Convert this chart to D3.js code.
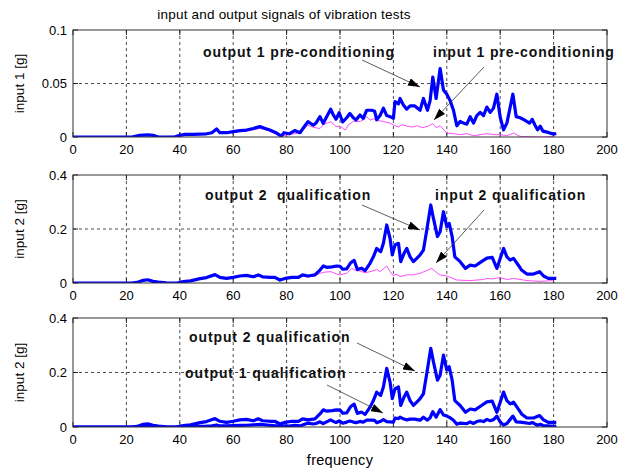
<!DOCTYPE html>
<html>
<head>
<meta charset="utf-8">
<script src="https://cdn.jsdelivr.net/npm/d3@7"></script>
<style>
  body { margin: 0; background: #fff; }
  svg { display: block; }
  text { font-family: "Liberation Sans", Arial, sans-serif; }
</style>
</head>
<body>
<svg id="chart" width="623" height="472"></svg>
<script>
// Frequency (Hz) / amplitude (g) samples for each measured signal
const output1Freq = [0,22,25,28,30,32,38,40,42,45,50,52,53.8,55,57.5,60,62.5,65,67.5,70,72,73.7,76,78,79,81,83,85,87,88,90,91,92.5,93.7,95,96.5,97.5,98.5,99.7,101,102.5,103.7,105,106,107.5,108.7,110,111.9,113,113.75,115,116.25,117.5,118.75,120,120.6,121.9,122.5,123.75,125,126.25,128,130,131.25,132.75,133.75,134.75,136,137.5,138.75,140,141.25,142.5,143.75,145,146.25,147.5,148.75,150,151.25,152.5,153.75,155,156.25,157.5,158.75,160,161.25,162.5,163.75,164.75,166,167.5,169,171,172,173,174,175,176,178,180,181];
const output1Vals = [0,0,0.0015,0.002,0.0015,0,0,0.0015,0.0025,0.0025,0.003,0.004,0.0075,0.004,0.004,0.005,0.006,0.0065,0.008,0.0097,0.008,0.0065,0.004,0.0008,0.004,0.003,0.006,0.004,0.011,0.0143,0.011,0.013,0.019,0.0127,0.019,0.026,0.0206,0.0166,0.0227,0.014,0.018,0.022,0.018,0.016,0.0205,0.0175,0.025,0.025,0.024,0.016,0.020,0.027,0.020,0.019,0.0175,0.033,0.031,0.036,0.030,0.026,0.029,0.029,0.025,0.036,0.025,0.034,0.056,0.036,0.064,0.044,0.040,0.034,0.025,0.0105,0.0145,0.013,0.012,0.019,0.013,0.020,0.023,0.020,0.028,0.023,0.027,0.040,0.0185,0.0067,0.013,0.028,0.040,0.019,0.018,0.016,0.013,0.0165,0.0112,0.0067,0.010,0.0055,0.0043,0.0027,0.0033];

const input1Freq = [0,22,28,32,40,42,50,53.8,55,60,65,70,73.7,78,81,85,88,90,92.5,94,96.6,98.5,100,102,103,105,107.5,108.7,110,111.25,112.5,113.75,116,118.75,120.6,121.9,123,125,126.9,128.75,131,133,134.75,136,137.5,140,142.5,145,147.5,150,152.5,155,157.5,160,162.5,165,167.5,175,180];
const input1Vals = [0,0,0.0015,0,0.001,0.002,0.0025,0.006,0.0035,0.0045,0.0055,0.008,0.0055,0.0005,0.0025,0.0035,0.011,0.009,0.008,0.012,0.0143,0.0097,0.0102,0.0065,0.011,0.0146,0.0146,0.0157,0.019,0.0157,0.017,0.0157,0.0146,0.013,0.0105,0.0093,0.0115,0.0102,0.0093,0.0105,0.0087,0.0102,0.0124,0.0087,0.0105,0.0037,0.0031,0.0022,0.0031,0.0012,0.0022,0.0031,0.0022,0.0022,0.0012,0.0037,0.0005,0,0.0005];

const output2Freq = [0,22,24,26.3,28,30,32,35,39,41.3,44,47.6,50,53.2,55,57.5,60,62.5,65,67.5,69.4,71,73.75,75.6,77.5,79.4,82,84.4,86,88,90.6,92.5,93.75,95,97,98.75,100,101,102.5,104,105.3,106.5,108,109.4,111.25,112.5,113.75,115.25,116.25,117.5,118.75,119.6,120.6,121.9,122.75,124,125,126.25,127.5,128.75,130,131.25,132.5,134,135,136.5,137.5,138.75,140,140.9,142,143,145,147,148.75,150.6,153,155,157,158.75,160,161.25,162.5,163.75,165,167,168,170,172.5,174.75,176.25,178,181];
const output2Vals = [0,0,0.002,0.01,0.012,0.006,0.003,0.001,0,0.005,0.008,0.016,0.02,0.031,0.021,0.017,0.021,0.026,0.028,0.023,0.030,0.023,0.021,0.021,0.011,0.017,0.021,0.021,0.030,0.026,0.030,0.048,0.063,0.058,0.060,0.063,0.062,0.051,0.052,0.075,0.084,0.05,0.055,0.046,0.073,0.097,0.128,0.116,0.147,0.215,0.165,0.104,0.141,0.147,0.079,0.110,0.128,0.097,0.079,0.091,0.104,0.122,0.196,0.289,0.239,0.172,0.190,0.264,0.209,0.221,0.172,0.097,0.079,0.054,0.066,0.063,0.079,0.092,0.095,0.054,0.091,0.128,0.097,0.085,0.091,0.063,0.048,0.033,0.033,0.042,0.026,0.017,0.017];

const input2Freq = [0,22,26.3,28,32,39,41.3,47.6,53.2,55,60,62.5,65,67.5,69.4,71,75,77.5,79.4,82,86,88,90.6,92.5,94,96.6,98,100,102.5,104.4,106,107.5,109.4,111.25,113.75,115,117.5,118.75,120,121,122.5,125,127.5,130,132.5,134.4,136.25,137.5,140,143.75,148.75,153.75,155,157,160,162.5,165,170,175,180];
const input2Vals = [0,0,0.008,0.01,0.002,0,0.004,0.014,0.028,0.019,0.019,0.024,0.025,0.021,0.027,0.021,0.019,0.010,0.015,0.018,0.025,0.022,0.026,0.036,0.040,0.042,0.036,0.030,0.036,0.054,0.046,0.044,0.038,0.042,0.050,0.042,0.063,0.042,0.026,0.033,0.024,0.030,0.030,0.036,0.046,0.054,0.038,0.030,0.026,0.011,0.009,0.013,0.017,0.015,0.020,0.013,0.017,0.009,0.006,0.009];

// The qualification run of output 1 repeats the same spectrum
const output1QualFreq = output1Freq;
const output1QualVals = output1Vals;

const xTicks = [0,20,40,60,80,100,120,140,160,180,200];
const yTicks1 = [0, 0.05, 0.1];
const yTicks2 = [0, 0.2, 0.4];
const yTickLabels1 = ["0", "0.05", "0.1"];
const yTickLabels2 = ["0", "0.2", "0.4"];

const titleText = "input and output signals of vibration tests";
const xLabel = "frequency";

const BLUE = "#0000ff";
const MAGENTA = "#ff4dff";

const svg = d3.select("#chart");
svg.append("rect").attr("width", 623).attr("height", 472).attr("fill", "#fff");

const defs = svg.append("defs");
defs.append("marker")
  .attr("id", "arrowhead")
  .attr("viewBox", "0 0 12 8")
  .attr("refX", 12).attr("refY", 4)
  .attr("markerWidth", 12).attr("markerHeight", 8)
  .attr("markerUnits", "userSpaceOnUse")
  .attr("orient", "auto")
  .append("path").attr("d", "M0,0 L12,4 L0,8 Z").attr("fill", "#000");

const x = d3.scaleLinear().domain([0, 200]).range([73, 607]);

const panels = [
  {
    top: 30, bottom: 137, yMax: 0.1, ticks: yTicks1, tickLabels: yTickLabels1, ylabel: "input 1 [g]",
    series: [
      { f: input1Freq, v: input1Vals, color: MAGENTA, width: 1 },
      { f: output1Freq, v: output1Vals, color: BLUE, width: 3.2 }
    ],
    notes: [
      { text: "output 1 pre-conditioning", x: 203, y: 57, from: [362, 60], to: [420, 87] },
      { text: "input 1 pre-conditioning", x: 433, y: 57, from: [484, 67], to: [434, 120] }
    ]
  },
  {
    top: 175, bottom: 283, yMax: 0.4, ticks: yTicks2, tickLabels: yTickLabels2, ylabel: "input 2 [g]",
    series: [
      { f: input2Freq, v: input2Vals, color: MAGENTA, width: 1 },
      { f: output2Freq, v: output2Vals, color: BLUE, width: 3.2 }
    ],
    notes: [
      { text: "output 2\u00a0 qualification", x: 205, y: 200, from: [362, 205], to: [420, 230] },
      { text: "input 2 qualification", x: 435, y: 200, from: [484, 210], to: [436, 263] }
    ]
  },
  {
    top: 318, bottom: 427, yMax: 0.4, ticks: yTicks2, tickLabels: yTickLabels2, ylabel: "input 2 [g]",
    series: [
      { f: output1QualFreq, v: output1QualVals, color: BLUE, width: 3.2 },
      { f: output2Freq, v: output2Vals, color: BLUE, width: 3.2 }
    ],
    notes: [
      { text: "output 2 qualification", x: 189, y: 342, from: [357, 343], to: [415, 371] },
      { text: "output 1 qualification", x: 185, y: 378, from: [327, 385], to: [383, 413] }
    ]
  }
];

panels.forEach((p, i) => {
  const y = d3.scaleLinear().domain([0, p.yMax]).range([p.bottom, p.top]);
  const g = svg.append("g");
  const [x0, x1] = x.range();

  // dashed grid
  g.append("g").selectAll("line.gx").data(xTicks.slice(1, -1)).join("line")
    .attr("x1", d => x(d)).attr("x2", d => x(d))
    .attr("y1", p.top).attr("y2", p.bottom)
    .attr("stroke", "#000").attr("stroke-width", 0.7).attr("stroke-dasharray", "3,3");
  g.append("g").selectAll("line.gy").data(p.ticks.slice(1, -1)).join("line")
    .attr("x1", x0).attr("x2", x1)
    .attr("y1", d => y(d)).attr("y2", d => y(d))
    .attr("stroke", "#000").attr("stroke-width", 0.7).attr("stroke-dasharray", "3,3");

  // inward tick marks on all four sides
  const tl = 5;
  xTicks.forEach(t => {
    g.append("line").attr("x1", x(t)).attr("x2", x(t)).attr("y1", p.bottom).attr("y2", p.bottom - tl).attr("stroke", "#222");
    g.append("line").attr("x1", x(t)).attr("x2", x(t)).attr("y1", p.top).attr("y2", p.top + tl).attr("stroke", "#222");
  });
  p.ticks.forEach(t => {
    g.append("line").attr("x1", x0).attr("x2", x0 + tl).attr("y1", y(t)).attr("y2", y(t)).attr("stroke", "#222");
    g.append("line").attr("x1", x1).attr("x2", x1 - tl).attr("y1", y(t)).attr("y2", y(t)).attr("stroke", "#222");
  });

  // clip region
  const clipId = "clip" + i;
  defs.append("clipPath").attr("id", clipId).append("rect")
    .attr("x", x0).attr("y", p.top).attr("width", x1 - x0).attr("height", p.bottom - p.top);

  const line = d3.line().x(d => x(d[0])).y(d => y(d[1]));
  p.series.forEach(s => {
    g.append("path")
      .datum(s.f.map((f, k) => [f, s.v[k]]))
      .attr("d", line)
      .attr("fill", "none")
      .attr("stroke", s.color)
      .attr("stroke-width", s.width)
      .attr("stroke-linejoin", "round")
      .attr("clip-path", `url(#${clipId})`);
  });

  // axes box
  g.append("rect").attr("x", x0).attr("y", p.top).attr("width", x1 - x0).attr("height", p.bottom - p.top)
    .attr("fill", "none").attr("stroke", "#333").attr("stroke-width", 1);

  // tick labels
  g.selectAll("text.xt").data(xTicks).join("text")
    .attr("x", d => x(d)).attr("y", p.bottom + 17)
    .attr("text-anchor", "middle").attr("font-size", 13).attr("fill", "#000")
    .text(d => d);
  g.selectAll("text.yt").data(p.ticks).join("text")
    .attr("x", x0 - 6).attr("y", d => y(d) + 4.5)
    .attr("text-anchor", "end").attr("font-size", 13).attr("fill", "#000")
    .text((d, k) => p.tickLabels[k]);

  // y label
  g.append("text")
    .attr("transform", `translate(24,${(p.top + p.bottom) / 2}) rotate(-90)`)
    .attr("text-anchor", "middle").attr("font-size", 13.5).attr("fill", "#000")
    .text(p.ylabel);

  // annotations
  p.notes.forEach(n => {
    g.append("line")
      .attr("x1", n.from[0]).attr("y1", n.from[1])
      .attr("x2", n.to[0]).attr("y2", n.to[1])
      .attr("stroke", "#333").attr("stroke-width", 0.8)
      .attr("marker-end", "url(#arrowhead)");
    g.append("text")
      .attr("x", n.x).attr("y", n.y)
      .attr("font-size", 14).attr("font-weight", "bold").attr("fill", "#111")
      .attr("letter-spacing", 0.9)
      .text(n.text);
  });
});

svg.append("text").attr("x", 284).attr("y", 19)
  .attr("text-anchor", "middle").attr("font-size", 13.5).attr("fill", "#000")
  .attr("letter-spacing", 0.2)
  .text(titleText);

svg.append("text").attr("x", 340).attr("y", 465)
  .attr("text-anchor", "middle").attr("font-size", 14.5).attr("fill", "#000")
  .attr("letter-spacing", 0.3)
  .text(xLabel);
</script>
</body>
</html>
